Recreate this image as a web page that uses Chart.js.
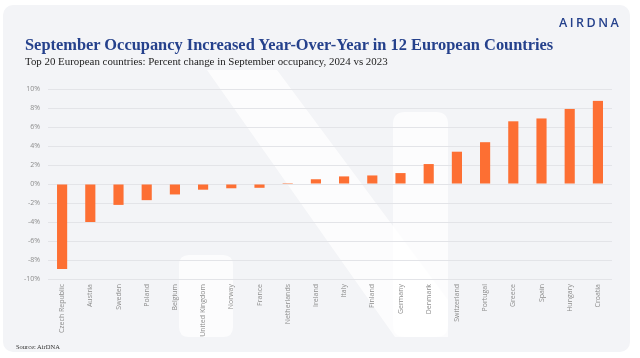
<!DOCTYPE html>
<html><head><meta charset="utf-8">
<script src="https://cdn.jsdelivr.net/npm/chart.js@4/dist/chart.umd.min.js"></script>
<style>
html,body{margin:0;padding:0;background:#fff;width:640px;height:358px;overflow:hidden;}
#card{position:absolute;left:3px;top:5px;width:627px;height:347px;background:#f3f4f7;border-radius:10px;}
#wrap{position:absolute;left:0;top:0;width:640px;height:358px;}
.t{position:absolute;white-space:nowrap;}
#title{left:25px;top:35px;font:bold 16.4px "Liberation Serif",serif;color:#25418c;}
#sub{left:25px;top:55px;font:10.9px "Liberation Serif",serif;color:#222;}
#logo{left:559px;top:14px;font:600 12.5px "Open Sans",sans-serif;color:#25418c;letter-spacing:2.5px;}
#src{left:16px;top:343px;font:6.5px "Liberation Serif",serif;color:#333;}
</style></head>
<body>
<div id="card"></div>
<div id="wrap"><canvas id="c" width="640" height="358"></canvas></div>
<div class="t" id="title">September Occupancy Increased Year-Over-Year in 12 European Countries</div>
<div class="t" id="sub">Top 20 European countries: Percent change in September occupancy, 2024 vs 2023</div>
<div class="t" id="logo">AIRDNA</div>
<div class="t" id="src">Source: AirDNA</div>
<script>
const countries = ["Czech Republic","Austria","Sweden","Poland","Belgium","United Kingdom","Norway","France","Netherlands","Ireland","Italy","Finland","Germany","Denmark","Switzerland","Portugal","Greece","Spain","Hungary","Croatia"];
const changePct = [-8.95,-4.0,-2.2,-1.7,-1.1,-0.6,-0.45,-0.4,0.1,0.5,0.8,0.9,1.15,2.1,3.4,4.4,6.6,6.9,7.9,8.75];
const yTicks = [-10,-8,-6,-4,-2,0,2,4,6,8,10];

function rr(ctx,x,y,w,h,r){ctx.beginPath();ctx.moveTo(x+r,y);ctx.lineTo(x+w-r,y);ctx.quadraticCurveTo(x+w,y,x+w,y+r);ctx.lineTo(x+w,y+h-r);ctx.quadraticCurveTo(x+w,y+h,x+w-r,y+h);ctx.lineTo(x+r,y+h);ctx.quadraticCurveTo(x,y+h,x,y+h-r);ctx.lineTo(x,y+r);ctx.quadraticCurveTo(x,y,x+r,y);ctx.closePath();ctx.fill();}
const watermark = {
  id:'wm',
  beforeDraw(chart){
    const ctx=chart.ctx; ctx.save();
    ctx.fillStyle='rgba(255,255,255,0.75)';
    rr(ctx,179,255,54,82,10);
    rr(ctx,393,112,55,225,12);
    ctx.beginPath();
    ctx.moveTo(207,70);ctx.lineTo(277,70);ctx.lineTo(448,300);ctx.lineTo(448,337);ctx.lineTo(395,337);ctx.closePath();ctx.fill();
    ctx.restore();
  }
};

new Chart(document.getElementById('c'),{
  type:'bar',
  data:{labels:countries,datasets:[{data:changePct,backgroundColor:'#fd6f33',barPercentage:0.72,categoryPercentage:0.5}]},
  options:{
    responsive:false,animation:false,
    layout:{padding:{left:8,right:28,top:89,bottom:0}},
    plugins:{legend:{display:false},tooltip:{enabled:false}},
    scales:{
      y:{min:-10,max:10,
        afterFit(s){s.width=40;},
        afterBuildTicks(s){s.ticks=yTicks.map(v=>({value:v}));},
        border:{display:false},
        grid:{color:'#e3e4e8',lineWidth:1,drawTicks:false},
        ticks:{padding:8,color:'#8c8c8c',font:{family:'"Open Sans", sans-serif',size:7},callback:v=>v+'%'}},
      x:{
        afterFit(s){s.height=79;},
        border:{display:false},
        grid:{display:false,drawTicks:false},
        ticks:{autoSkip:false,maxRotation:90,minRotation:90,padding:5,color:'#8c8c8c',font:{family:'"Open Sans", sans-serif',size:7}}}
    }
  },
  plugins:[watermark]
});
</script>
</body></html>
